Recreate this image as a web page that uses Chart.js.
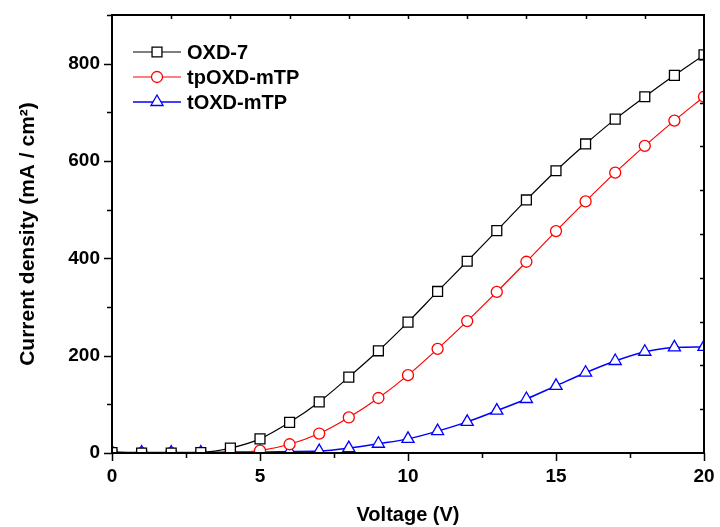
<!DOCTYPE html>
<html><head><meta charset="utf-8">
<script src="https://cdn.jsdelivr.net/npm/chart.js@4/dist/chart.umd.min.js"></script>
<style>html,body{margin:0;padding:0;background:#fff}#wrap{width:720px;height:527px}</style>
</head><body><div id="wrap"><canvas id="c" width="720" height="527"></canvas></div>
<script>
const voltage = [0,1,2,3,4,5,6,7,8,9,10,11,12,13,14,15,16,17,18,19,20];
const oxd7 = [1,0,0,1,10,29,63,105,156,210,269,332,394,457,520,580,635,686,732,776,818];
const tpOXDmTP = [1,0,0,0,1,5,18,40,73,113,160,214,271,331,393,456,517,576,631,683,732];
const tOXDmTP = [2,1,1,1,2,2,3,4,10,19,29,45,64,87,111,138,165,189,208,217,218];
const seriesNames = ['OXD-7','tpOXD-mTP','tOXD-mTP'];
const xTickStep = 5, yTickStep = 200;

const FONT = '"Liberation Sans", Arial, sans-serif';
const toXY = arr => arr.map((v,i)=>({x:voltage[i], y:v}));

function drawMarker(ctx, style, x, y, r, color, lw){
  ctx.save();
  ctx.beginPath();
  if(style==='rect'){ const s=r*Math.SQRT1_2; ctx.rect(x-s,y-s,2*s,2*s); }
  else if(style==='circle'){ ctx.arc(x,y,r,0,Math.PI*2); }
  else { ctx.moveTo(x, y - r); ctx.lineTo(x + r*Math.sin(Math.PI/3), y + r*0.5); ctx.lineTo(x - r*Math.sin(Math.PI/3), y + r*0.5); ctx.closePath(); }
  ctx.fillStyle='#fff'; ctx.fill();
  ctx.lineWidth=lw; ctx.strokeStyle=color; ctx.stroke();
  ctx.restore();
}

const frame = {
  id:'frame',
  afterDraw(chart){
    const {ctx, chartArea:a, scales:{x,y}} = chart;
    ctx.save();
    ctx.strokeStyle='#000'; ctx.lineWidth=2;
    ctx.strokeRect(a.left, a.top, a.right-a.left, a.bottom-a.top);
    ctx.lineWidth=1.5;
    ctx.beginPath();
    for(let v=0; v<=900; v+=100){
      const py=Math.round(y.getPixelForValue(v))+0.5;
      const len = v%200===0 ? 8 : 5;
      ctx.moveTo(a.left-len, py); ctx.lineTo(a.left, py);
    }
    for(let v=0; v<=20; v+=2.5){
      const px=Math.round(x.getPixelForValue(v))+0.5;
      const len = v%5===0 ? 8 : 5;
      ctx.moveTo(px, a.bottom); ctx.lineTo(px, a.bottom+len);
    }
    for(let v=2; v<20; v+=2){
      const px=Math.round(x.getPixelForValue(v))+0.5;
      ctx.moveTo(px, a.top); ctx.lineTo(px, a.top+4);
    }
    for(let v=90; v<900; v+=90){
      const py=Math.round(y.getPixelForValue(v))+0.5;
      ctx.moveTo(a.right-4, py); ctx.lineTo(a.right, py);
    }
    ctx.stroke();
    const items = chart.data.datasets;
    const lx0=133, lx1=181, mx=157, tx=187, rows=[52,77,102];
    ctx.font = 'bold 20px '+FONT;
    ctx.textBaseline='middle'; ctx.fillStyle='#000';
    items.forEach((ds,i)=>{
      const yy=rows[i];
      ctx.beginPath(); ctx.strokeStyle=ds.borderColor; ctx.lineWidth=ds.borderWidth;
      ctx.moveTo(lx0,yy); ctx.lineTo(lx1,yy); ctx.stroke();
      drawMarker(ctx, ds.pointStyle, mx, yy, ds.pointRadius, ds.borderColor, ds.pointBorderWidth);
      ctx.fillStyle='#000';
      ctx.fillText(seriesNames[i], tx, yy+1);
    });
    ctx.restore();
  }
};

const mk = (label, arr, color, style, r, bw) => ({
  label, data: toXY(arr), borderColor: color, backgroundColor:'#fff',
  borderWidth: bw, pointStyle: style, pointRadius: r, pointHoverRadius: r,
  pointBackgroundColor:'#fff', pointBorderColor: color, pointBorderWidth: 1.3,
  cubicInterpolationMode:'monotone', clip: 0
});

function zeroPad(s){ s.paddingTop=0; s.paddingBottom=0; s.paddingLeft=0; s.paddingRight=0; }

new Chart(document.getElementById('c'), {
  type:'line',
  data:{ datasets:[
    mk(seriesNames[0], oxd7, '#000000', 'rect', 7, 1.2),
    mk(seriesNames[1], tpOXDmTP, '#ff0000', 'circle', 5.5, 1.2),
    mk(seriesNames[2], tOXDmTP, '#0000ff', 'triangle', 7, 1.5)
  ]},
  options:{
    responsive:false, animation:false, devicePixelRatio:1,
    layout:{padding:{top:15, right:16, left:0, bottom:0}},
    plugins:{legend:{display:false}, tooltip:{enabled:false}},
    scales:{
      x:{ type:'linear', min:0, max:20,
        ticks:{stepSize:xTickStep, color:'#000', font:{family:FONT, weight:'bold', size:19}, padding:12, maxRotation:0},
        grid:{display:false, drawTicks:false}, border:{display:false},
        title:{display:true, text:'Voltage (V)', color:'#000', font:{family:FONT, weight:'bold', size:20}, padding:{top:10,bottom:0}},
        afterFit(s){ s.height=74; zeroPad(s); }
      },
      y:{ type:'linear', min:0, max:900,
        ticks:{stepSize:yTickStep, includeBounds:false, color:'#000', font:{family:FONT, weight:'bold', size:19}, padding:12},
        grid:{display:false, drawTicks:false}, border:{display:false},
        title:{display:true, text:'Current density (mA / cm²)', color:'#000', font:{family:FONT, weight:'bold', size:21}, padding:{top:16,bottom:8}},
        afterFit(s){ s.width=112; zeroPad(s); }
      }
    }
  },
  plugins:[frame]
});
</script></body></html>
